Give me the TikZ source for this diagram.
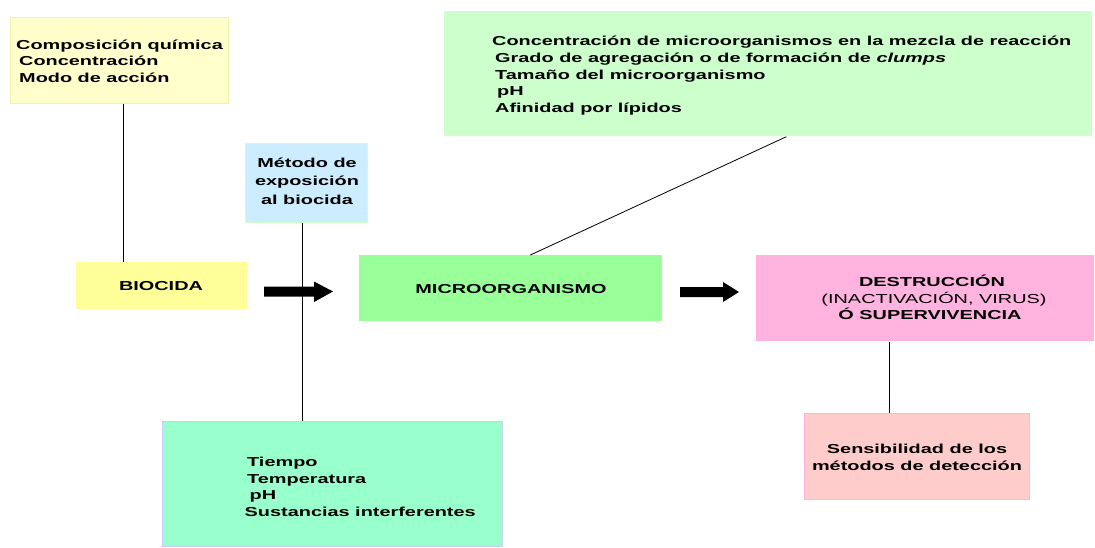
\documentclass[tikz,border=0pt]{standalone}
\usepackage{fontspec}
\setmainfont[FakeStretch=1.53]{Liberation Sans}
\definecolor{cComp}{HTML}{FFFFCC}
\definecolor{cCompB}{HTML}{F5F0A8}
\definecolor{cBio}{HTML}{FFFF99}
\definecolor{cMet}{HTML}{CCECFF}
\definecolor{cMetB}{HTML}{CCFFCC}
\definecolor{cMicro}{HTML}{99FF99}
\definecolor{cTop}{HTML}{CCFFCC}
\definecolor{cDes}{HTML}{FFB3DE}
\definecolor{cSen}{HTML}{FFCCCC}
\definecolor{cSenB}{HTML}{FFB3DE}
\definecolor{cTeal}{HTML}{99FFCC}
\definecolor{cTealB}{HTML}{CCCCFF}
\tikzset{
  bx/.style={rectangle, inner sep=0pt, anchor=north west, line width=0.7pt},
  tl/.style={anchor=base west, inner sep=0pt, font=\fontsize{13}{16}\selectfont\bfseries},
  tc/.style={anchor=base, inner sep=0pt, font=\fontsize{13}{16}\selectfont\bfseries},
  link/.style={draw=black, line width=0.8pt},
  blockarrow/.style={fill=black}
}
\begin{document}
\begin{tikzpicture}[x=1pt,y=-1pt]
\useasboundingbox (0,0) rectangle (1095,547);

% boxes
\node[bx, fill=cComp, draw=cCompB, minimum width=218pt, minimum height=86pt] (comp) at (10,17) {};
\node[bx, fill=cMet, draw=cMetB, minimum width=122pt, minimum height=79pt] (met) at (245,143) {};
\node[bx, fill=cBio, minimum width=171pt, minimum height=47pt] (bio) at (76,262) {};
\node[bx, fill=cMicro, minimum width=303pt, minimum height=66pt] (micro) at (359,255) {};
\node[bx, fill=cTop, minimum width=648pt, minimum height=125pt] (top) at (444,11) {};
\node[bx, fill=cDes, minimum width=338pt, minimum height=86pt] (des) at (756,255) {};
\node[bx, fill=cSen, draw=cSenB, minimum width=225pt, minimum height=86pt] (sen) at (804,413) {};
\node[bx, fill=cTeal, draw=cTealB, minimum width=340pt, minimum height=125pt] (teal) at (162,421) {};

% connectors
\draw[link] ([xshift=4pt]comp.south) -- ([xshift=4pt]comp.south |- bio.north);
\draw[link] ([xshift=-3.5pt]met.south) -- ([xshift=-3.5pt]met.south |- teal.north);
\draw[link] ([xshift=18pt]top.south) -- ([xshift=19.5pt]micro.north);
\draw[link] ([xshift=-36pt]des.south) -- ([xshift=-36pt]des.south |- sen.north);

% block arrows
\fill[blockarrow] (264,286.5) -- (314,286.5) -- (314,281.5) -- (333,291.5) -- (314,302) -- (314,296.5) -- (264,296.5) -- cycle;
\fill[blockarrow] (680,287) -- (723,287) -- (723,282) -- (739,292) -- (723,302) -- (723,297) -- (680,297) -- cycle;

% texts
\node[tl] (comp1) at (16,49) {Composición química};
\node[tl] (comp2) at (19,65.5) {Concentración};
\node[tl] (comp3) at (19,82.5) {Modo de acción};

\node[tc] (met1) at (307,167) {Método de};
\node[tc] (met2) at (307,185.5) {exposición};
\node[tc] (met3) at (307,204) {al biocida};

\node[tc] (bio1) at (161,290) {BIOCIDA};
\node[tc] (micro1) at (511,293.5) {MICROORGANISMO};

\node[tl] (top1) at (492,45.5) {Concentración de microorganismos en la mezcla de reacción};
\node[tl] (top2) at (495,62.5) {Grado de agregación o de formación de \textit{clumps}};
\node[tl] (top3) at (495,79) {Tamaño del microorganismo};
\node[tl] (top4) at (497,95.5) {pH};
\node[tl] (top5) at (495,112) {Afinidad por lípidos};

\node[tc] (des1) at (932,286.5) {DESTRUCCIÓN};
\node[tc, font=\fontsize{13}{16}\selectfont\mdseries] (des2) at (934,303) {(INACTIVACIÓN, VIRUS)};
\node[tc] (des3) at (930,319.5) {Ó SUPERVIVENCIA};

\node[tc] (sen1) at (917,453.5) {Sensibilidad de los};
\node[tc] (sen2) at (917,470.5) {métodos de detección};

\node[tl] (teal1) at (247,466.5) {Tiempo};
\node[tl] (teal2) at (247,483) {Temperatura};
\node[tl] (teal3) at (249.5,499.5) {pH};
\node[tl] (teal4) at (244.5,516) {Sustancias interferentes};
\end{tikzpicture}
\end{document}
